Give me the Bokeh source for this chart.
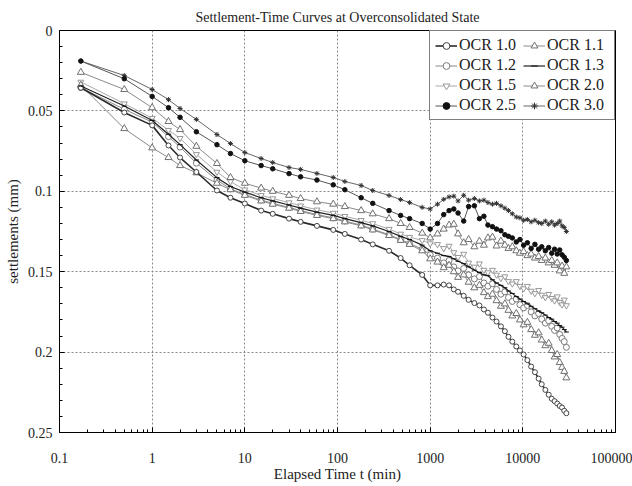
from bokeh.plotting import figure
from bokeh.models import Range1d, FixedTicker, Legend, LegendItem
from bokeh.embed import file_html
from bokeh.resources import INLINE

# Elapsed time readings (min)
time_early = [0.17, 0.5, 1, 1.5, 2, 3, 5, 7, 10, 15, 20, 30, 40, 60, 90, 120,
              180, 240, 360, 480, 600, 820, 1000]
time_late = [1200, 1400, 1600, 1800, 2000, 2300, 2600, 3000, 3400, 3800, 4200,
             4700, 5200, 5800, 6400, 7000, 7700, 8500, 9300, 10200, 11200, 12300,
             13500, 14800, 16000, 17500, 19000, 20500, 22000, 23500, 25000, 26500,
             28000, 29500]
elapsed_time = time_early + time_late

# Settlements (mm)
ocr_1_0 = [.0356, .051, .059, .0715, .079, .088, .0995, .104, .1076, .112, .114, .117,
           .119, .1215, .124, .1265, .130, .133, .137, .1415, .146, .152, .1585,
           .1585, .158, .1585, .161, .1625, .165, .1675, .1695, .171, .1735, .1755,
           .1785, .181, .184, .187, .1905, .1935, .1965, .199, .2015, .205, .209,
           .2125, .2165, .220, .2235, .2265, .229, .2305, .232, .2335, .2345, .2365, .238]
ocr_1_1 = [.034, .061, .073, .079, .084, .0885, .095, .099, .1025, .106, .108, .1105,
           .1125, .115, .117, .119, .1215, .124, .1275, .1305, .133, .137, .142,
           .144, .1475, .146, .150, .1535, .152, .1565, .160, .1585, .163, .1655,
           .164, .168, .1715, .170, .174, .1775, .176, .180, .183, .1815, .186,
           .1895, .188, .1925, .196, .1945, .199, .203, .2015, .2065, .2095, .212, .216]
ocr_1_2 = [.0355, .049, .057, .066, .0725, .0825, .093, .0985, .102, .1055, .1075, .110,
           .112, .1145, .1165, .1185, .121, .1235, .127, .130, .1325, .136, .1395,
           .1415, .1445, .143, .147, .1495, .148, .152, .1545, .153, .157, .159,
           .1575, .161, .164, .1625, .166, .1685, .167, .1705, .1725, .171, .175,
           .1775, .176, .1795, .182, .1805, .184, .1865, .185, .189, .1915, .1935, .197]
ocr_1_3 = [.0345, .047, .056, .0645, .071, .0805, .0915, .097, .1005, .104, .106, .1085,
           .1105, .113, .115, .117, .1195, .1215, .125, .128, .130, .1335, .137,
           .1385, .140, .1405, .142, .1435, .145, .147, .149, .1505, .152, .1525,
           .155, .157, .1585, .160, .162, .1635, .1655, .167, .1685, .170, .1715,
           .173, .1745, .1755, .177, .1785, .1795, .181, .182, .1835, .1845, .186, .1875]
ocr_1_5 = [.032, .0455, .0545, .062, .067, .077, .088, .094, .099, .1025, .1045, .107,
           .109, .1115, .1135, .1155, .118, .120, .1235, .1265, .1285, .1305, .1325,
           .133, .1355, .134, .138, .141, .139, .1445, .147, .145, .149, .1505,
           .149, .152, .154, .153, .156, .1575, .156, .159, .1605, .159, .162,
           .1635, .1615, .1645, .166, .164, .1665, .168, .1655, .169, .1705, .1675, .171]
ocr_2_0 = [.026, .0367, .048, .0566, .0616, .072, .0827, .0914, .095, .098, .100, .1025,
           .1045, .1065, .108, .1095, .112, .114, .117, .120, .1225, .126, .129,
           .1265, .1235, .121, .1205, .1265, .132, .130, .1345, .131, .1335, .129,
           .1285, .134, .131, .1335, .1355, .1345, .137, .1385, .1375, .140, .139,
           .1415, .1405, .143, .1415, .1445, .143, .146, .1445, .1495, .1465, .151, .147]
ocr_2_5 = [.019, .030, .041, .048, .054, .063, .071, .0765, .081, .084, .086, .089,
           .091, .093, .096, .099, .104, .1075, .112, .115, .117, .120, .1235,
           .120, .1145, .112, .111, .1135, .1185, .1095, .109, .117, .1155, .121,
           .122, .1235, .1245, .127, .128, .129, .1315, .130, .1335, .132, .1355,
           .133, .136, .1345, .137, .135, .1385, .136, .139, .1365, .1395, .141, .143]
ocr_3_0 = [.019, .028, .0367, .043, .0485, .0553, .0647, .0703, .0759, .0796, .0821, .0852,
           .0864, .0889, .0914, .0939, .0964, .0995, .1026, .1051, .107, .110, .111,
           .108, .105, .1035, .103, .106, .1025, .1055, .1045, .106, .1055, .107,
           .108, .1075, .109, .1105, .112, .114, .116, .1165, .118, .1175, .119,
           .118, .1195, .12, .1185, .1205, .119, .121, .12, .1185, .1215, .1225, .125]

series_labels = ["OCR 1.0", "OCR 1.1", "OCR 1.2", "OCR 1.3",
                 "OCR 1.5", "OCR 2.0", "OCR 2.5", "OCR 3.0"]
series_values = [ocr_1_0, ocr_1_1, ocr_1_2, ocr_1_3, ocr_1_5, ocr_2_0, ocr_2_5, ocr_3_0]

x_ticks = [0.1, 1, 10, 100, 1000, 10000, 100000]
x_tick_labels = ["0.1", "1", "10", "100", "1000", "10000", "100000"]
y_ticks = [0, 0.05, 0.1, 0.15, 0.2, 0.25]
y_tick_labels = ["0", "0.05", "0.1", "0.15", "0.2", "0.25"]

# styles: line color, line width, marker, marker size, marker line, marker fill
styles = {
    "OCR 1.0": ("#2a2a2a", 1.6, "circle", 5, "#444444", "white"),
    "OCR 1.1": ("#8a8a8a", 1.0, "triangle", 7, "#707070", "white"),
    "OCR 1.2": ("#8a8a8a", 1.0, "circle", 6, "#7a7a7a", "white"),
    "OCR 1.3": ("#222222", 1.2, "dash", 5, "#111111", "#111111"),
    "OCR 1.5": ("#aaaaaa", 1.0, "inverted_triangle", 6, "#999999", "white"),
    "OCR 2.0": ("#8a8a8a", 1.0, "triangle", 7, "#707070", "white"),
    "OCR 2.5": ("#555555", 1.0, "circle", 4.5, "#111111", "#111111"),
    "OCR 3.0": ("#666666", 1.0, "asterisk", 5, "#333333", "#333333"),
}

SERIF = "Liberation Serif"

p = figure(width=632, height=486, x_axis_type="log",
           x_range=Range1d(0.1, 100000), y_range=Range1d(0.25, 0),
           output_backend="svg", toolbar_location=None,
           min_border_left=59, min_border_right=17, min_border_top=30,
           min_border_bottom=54)

p.title.text = "Settlement-Time Curves at Overconsolidated State"
p.title.text_font = SERIF
p.title.text_font_size = "14px"
p.title.text_font_style = "normal"
p.title.text_color = "#222222"
p.title.align = "center"
p.title.offset = -21
p.title.standoff = 12

p.xaxis.ticker = FixedTicker(ticks=x_ticks,
                             minor_ticks=[k * 10.0 ** e for e in range(-1, 5) for k in range(2, 10)])
p.xaxis.major_label_overrides = dict(zip(x_ticks, x_tick_labels))
p.yaxis.ticker = FixedTicker(ticks=y_ticks, minor_ticks=[i / 100 for i in range(26)])
p.yaxis.major_label_overrides = dict(zip(y_ticks, y_tick_labels))

for ax in (p.xaxis, p.yaxis):
    ax.major_label_text_font = SERIF
    ax.major_label_text_font_size = "14px"
    ax.major_label_text_color = "#222222"
    ax.axis_line_color = "black"
    ax.major_tick_in = 5
    ax.major_tick_out = 0
    ax.minor_tick_in = 3
    ax.minor_tick_out = 0
    ax.major_tick_line_color = "black"
    ax.minor_tick_line_color = "black"

p.xaxis.major_label_standoff = 20
p.yaxis.major_label_standoff = 7

p.yaxis.axis_label = "settlements (mm)"
p.xaxis.axis_label = "Elapsed Time t (min)"
for ax in (p.xaxis, p.yaxis):
    ax.axis_label_text_font = SERIF
    ax.axis_label_text_font_size = "15px"
    ax.axis_label_text_font_style = "normal"
    ax.axis_label_text_color = "#222222"
p.yaxis.axis_label_standoff = 4
p.xaxis.axis_label_standoff = 0

for g in (p.xgrid, p.ygrid):
    g.grid_line_color = "#888888"
    g.grid_line_dash = "2 2"
    g.grid_line_width = 1

p.outline_line_color = "black"
p.outline_line_width = 1

items = []
draw_order = ["OCR 1.5", "OCR 1.2", "OCR 1.1", "OCR 2.0", "OCR 1.0", "OCR 1.3", "OCR 3.0", "OCR 2.5"]
renderers = {}
for label in draw_order:
    vals = series_values[series_labels.index(label)]
    n = min(len(vals), len(elapsed_time))
    lc, lw, mk, ms, mlc, mfc = styles[label]
    r1 = p.line(elapsed_time[:n], vals[:n], line_color=lc, line_width=lw)
    r2 = p.scatter(elapsed_time[:n], vals[:n], marker=mk, size=ms,
                   line_color=mlc, fill_color=mfc, line_width=1)
    renderers[label] = [r1, r2]

for label in series_labels:
    items.append(LegendItem(label=label, renderers=renderers[label]))

legend = Legend(items=items, location="top_right", orientation="horizontal", ncols=2,
                label_text_font=SERIF, label_text_font_size="16px",
                label_text_color="#222222",
                border_line_color="black", border_line_width=1,
                padding=5, spacing=2, margin=0, glyph_width=22, glyph_height=17,
                label_height=17, label_width=62, label_standoff=2,
                background_fill_color="white", background_fill_alpha=1)
p.add_layout(legend)

open("out.html", "w").write(file_html(p, INLINE))
